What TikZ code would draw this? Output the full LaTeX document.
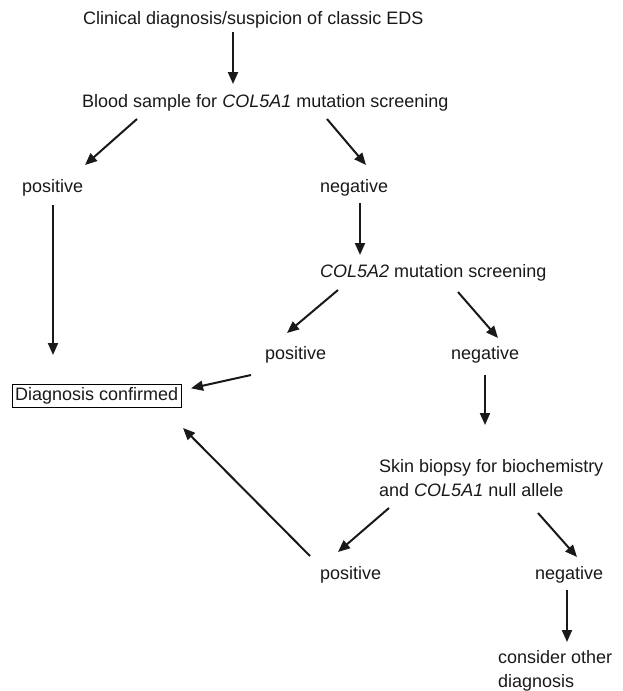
\documentclass[tikz,border=0pt]{standalone}
\usepackage{fontspec}
\setmainfont{Liberation Sans}
\usepackage{tikz}
\usetikzlibrary {arrows.meta}
\tikzset{
        txt/.style={anchor=base west, inner sep=0pt, align=left,
                    font=\fontsize{18}{24}\selectfont, text=black!90},
        result/.style={txt, draw, inner sep=3pt, line width=0.8pt},
        myarrow/.style={-{Triangle[length=12pt,width=10pt]}, line width=2pt,
                        draw=black!90},
 }
\begin{document}
\begin{tikzpicture}[x=1pt,y=-1pt]
    \useasboundingbox (0,0) rectangle (622,691);
    \node[txt] (clin) at (83,24) {Clinical diagnosis/suspicion of classic EDS};
    \node[txt] (blood) at (82,107) {Blood sample for \textit{COL5A1} mutation screening};
    \node[txt] (pos1) at (22,192) {positive};
    \node[txt] (neg1) at (320,192) {negative};
    \node[txt] (col2) at (320,277) {\textit{COL5A2} mutation screening};
    \node[txt] (pos2) at (265,359) {positive};
    \node[txt] (neg2) at (451,359) {negative};
    \node[result] (diag) at (11.7,400.5) {Diagnosis confirmed};
    \node[txt] (skin) at (379,496) {Skin biopsy for biochemistry\\and \textit{COL5A1} null allele};
    \node[txt] (pos3) at (320,579) {positive};
    \node[txt] (neg3) at (535,579) {negative};
    \node[txt] (cons) at (498,687) {consider other\\diagnosis};

    \draw[myarrow] ([shift={(150,8)}]clin.base west) -- ([shift={(151,-23)}]blood.base west);
    \draw[myarrow] ([shift={(55,12)}]blood.base west) -- ([shift={(63,-27)}]pos1.base west);
    \draw[myarrow] ([shift={(245,12)}]blood.base west) -- ([shift={(46,-27)}]neg1.base west);
    \draw[myarrow] ([shift={(31,13)}]pos1.base west) -- ([shift={(41.3,-45.5)}]diag.base west);
    \draw[myarrow] ([shift={(40,11)}]neg1.base west) -- ([shift={(40,-22)}]col2.base west);
    \draw[myarrow] ([shift={(18,13)}]col2.base west) -- ([shift={(22,-26)}]pos2.base west);
    \draw[myarrow] ([shift={(138,15)}]col2.base west) -- ([shift={(47,-21)}]neg2.base west);
    \draw[myarrow] ([shift={(-14,16)}]pos2.base west) -- ([shift={(179.3,-12.2)}]diag.base west);
    \draw[myarrow] ([shift={(34,16)}]neg2.base west) -- ([shift={(106,-71)}]skin.base west);
    \draw[myarrow] ([shift={(10,12)}]skin.base west) -- ([shift={(18,-27)}]pos3.base west);
    \draw[myarrow] ([shift={(159,17)}]skin.base west) -- ([shift={(42,-22)}]neg3.base west);
    \draw[myarrow] ([shift={(-10,-23)}]pos3.base west) -- ([shift={(171.3,27.5)}]diag.base west);
    \draw[myarrow] ([shift={(32,11)}]neg3.base west) -- ([shift={(69,-45)}]cons.base west);
\end{tikzpicture}
\end{document}
